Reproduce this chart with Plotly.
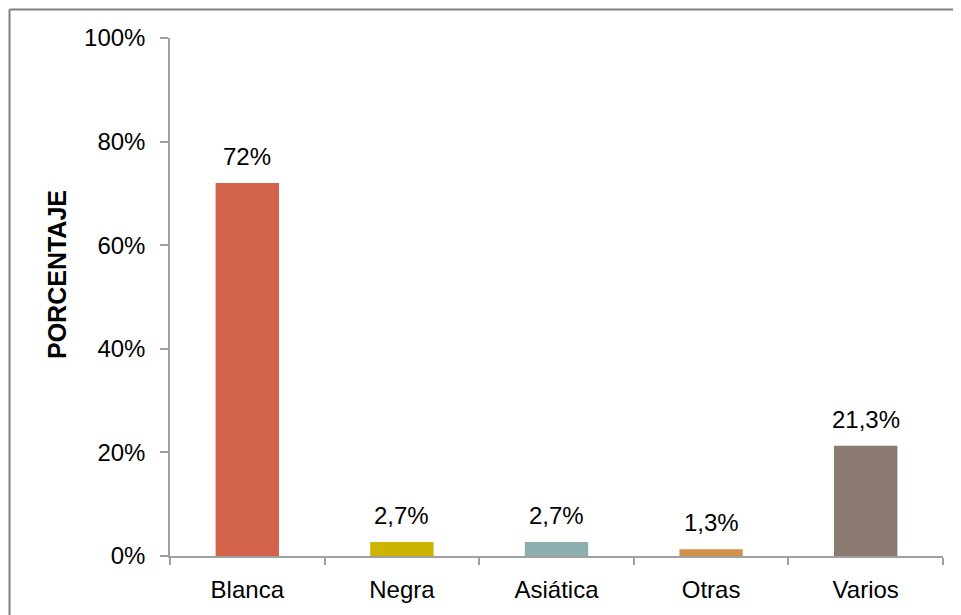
import plotly.graph_objects as go

categories = ["Blanca", "Negra", "Asiática", "Otras", "Varios"]
values = [72, 2.7, 2.7, 1.3, 21.3]
colors = ["#D3634A", "#CCB400", "#8CAEAE", "#D1914A", "#8B7A70"]
y_ticks = [0, 20, 40, 60, 80, 100]
y_title = "PORCENTAJE"

labels = [f"{v:g}".replace(".", ",") + "%" for v in values]

FONT = "Liberation Sans, Arial, sans-serif"
FS = 24

# page body has an 8px offset; margins compensate so the plot lands where the reference has it
L, R, T, B = 162, 26, 30, 67
W, H = 961, 615
PW, PH = W - L - R, H - T - B
BORDER_Y = 1.5
BORDER_X = 1.5

fig = go.Figure(go.Bar(
    x=categories, y=values, marker_color=colors, marker_line_width=0,
    width=0.41, hoverinfo="x+y",
))

for c, v, t in zip(categories, values, labels):
    fig.add_annotation(
        x=c, y=v, text=t, showarrow=False, xanchor="center", yanchor="bottom",
        yshift=11, font=dict(family=FONT, size=FS, color="black"),
    )

fig.update_layout(
    width=W, height=H,
    margin=dict(l=L, r=R, t=T, b=B),
    paper_bgcolor="white", plot_bgcolor="white",
    font=dict(family=FONT, size=FS, color="black"),
    showlegend=False,
    shapes=[
        dict(type="line", xref="paper", yref="paper", layer="above",
             x0=(BORDER_X - L) / PW, x1=(W - 2 - L) / PW,
             y0=(PH + T - BORDER_Y) / PH, y1=(PH + T - BORDER_Y) / PH,
             line=dict(color="#808080", width=2)),
        dict(type="line", xref="paper", yref="paper", layer="above",
             x0=(BORDER_X - L) / PW, x1=(BORDER_X - L) / PW,
             y0=(PH + T - BORDER_Y) / PH, y1=-(B - 2) / PH,
             line=dict(color="#808080", width=2)),
    ],
)

fig.update_yaxes(
    range=[0, 100], tickvals=y_ticks, ticktext=[f"{t}%" for t in y_ticks],
    showgrid=False, zeroline=False, showline=True, linecolor="#A0A0A0", linewidth=1.5,
    ticks="outside", ticklen=8, tickcolor="#A0A0A0", tickwidth=1.5,
    ticklabelstandoff=10,
    tickfont=dict(family=FONT, size=FS, color="black"),
)
fig.update_xaxes(
    showgrid=False, showline=True, linecolor="#A0A0A0", linewidth=1.5,
    ticks="outside", ticklen=7, tickcolor="#A0A0A0", tickwidth=1.5,
    tickson="boundaries", ticklabelstandoff=11,
    tickfont=dict(family=FONT, size=FS, color="black"),
)

fig.add_annotation(
    text=f"<b>{y_title}</b>", textangle=-90, showarrow=False,
    xref="paper", yref="paper", x=(49 - L) / PW, y=(PH + T - 267) / PH,
    xanchor="center", yanchor="middle",
    font=dict(family=FONT, size=25, color="black"),
)

fig.write_html("out.html")
